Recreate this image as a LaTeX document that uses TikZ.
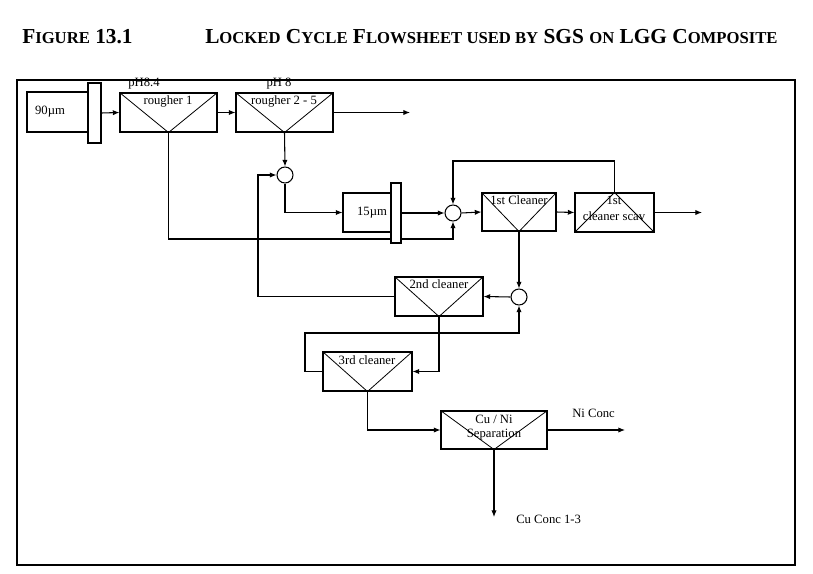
\documentclass[tikz,border=0pt]{standalone}
\usepackage{fontspec}
\setmainfont{Liberation Serif}
\usetikzlibrary{arrows.meta,backgrounds}
\begin{document}
\begin{tikzpicture}[x=0.75pt,y=-0.75pt,
  box/.style={draw,fill=white,rectangle,inner sep=0pt,line width=0.8pt},
  mix/.style={draw,fill=white,circle,inner sep=0pt,minimum size=16*0.75pt,line width=0.8pt},
  conn/.style={line width=0.8pt,-{Latex[length=5pt,width=4pt]}},
  lbl/.style={font=\fontsize{9.5pt}{10pt}\selectfont,inner sep=0pt}]
\useasboundingbox (0,0) rectangle (813,574);
\node[anchor=base west,inner sep=0pt,font=\bfseries\fontsize{16pt}{18pt}\selectfont] (t1) at (22,44) {F{\fontsize{12.5pt}{14pt}\selectfont IGURE} 13.1};
\node[anchor=base west,inner sep=0pt,font=\bfseries\fontsize{16pt}{18pt}\selectfont] (t2) at (205,44) {L{\fontsize{12.5pt}{14pt}\selectfont OCKED} C{\fontsize{12.5pt}{14pt}\selectfont YCLE} F{\fontsize{12.5pt}{14pt}\selectfont LOWSHEET USED BY} SGS {\fontsize{12.5pt}{14pt}\selectfont ON} LGG C{\fontsize{12.5pt}{14pt}\selectfont OMPOSITE}};
\draw[line width=0.8pt] (17,80) rectangle (795,565);
% units
\node[box,minimum width=61*0.75pt,minimum height=40*0.75pt] (b90) at (57.5,112) {};
\node[lbl] at (50,112) {90µm};
\node[box,minimum width=13*0.75pt,minimum height=60*0.75pt] (s90) at (94.5,113) {};
\node[box,minimum width=97*0.75pt,minimum height=39*0.75pt] (r1) at (168.5,112.5) {};
\node[box,minimum width=97*0.75pt,minimum height=39*0.75pt] (r2) at (284.5,112.5) {};
\node[mix] (m1) at (285,175) {};
\node[box,minimum width=48*0.75pt,minimum height=39*0.75pt] (b15) at (367,212.5) {};
\node[lbl] at (372,212.5) {15µm};
\node[box,minimum width=10*0.75pt,minimum height=60*0.75pt] (s15) at (396,213) {};
\node[mix] (m2) at (453,213) {};
\node[box,minimum width=74*0.75pt,minimum height=38*0.75pt] (c1) at (519,212) {};
\node[box,minimum width=79*0.75pt,minimum height=39*0.75pt] (sc) at (614.5,212.5) {};
\node[mix] (m3) at (519,297) {};
\node[box,minimum width=88*0.75pt,minimum height=39*0.75pt] (c2) at (439,296.5) {};
\node[box,minimum width=89*0.75pt,minimum height=39*0.75pt] (c3) at (367.5,371.5) {};
\node[box,minimum width=106*0.75pt,minimum height=38*0.75pt] (cu) at (494,430) {};
% triangles
\foreach \n in {r1,r2,c1,c2,c3,cu} \draw[line width=0.6pt] (\n.north west) -- (\n.south) -- (\n.north east);
\draw[line width=0.6pt] (sc.south west) -- (sc.north) -- (sc.south east);
% labels
\node[lbl] at (168,101) {rougher 1};
\node[lbl] at (284,101) {rougher 2 - 5};
\node[lbl] at (144,84) {pH8.4};
\node[lbl] at (279,84) {pH 8};
\node[lbl] at (519,200) {1st Cleaner};
\node[lbl] at (614,200) {1st};
\node[lbl] at (614,216) {cleaner scav};
\node[lbl] at (439,284) {2nd cleaner};
\node[lbl] at (367,360) {3rd cleaner};
\node[lbl] at (494,419) {Cu / Ni};
\node[lbl] at (494,435) {Separation};
\node[lbl,anchor=west] (nic) at (572,413) {Ni Conc};
\node[lbl,anchor=west] (cuc) at (516,519) {Cu Conc 1-3};
% coordinates
\coordinate (o1) at (410,112.5);
\coordinate (j1) at (258,175);
\coordinate (j2) at (453,239);
\coordinate (j3) at (453,161);
\coordinate (o2) at (702,212.5);
\coordinate (j4) at (305,333);
\coordinate (o3) at (625,430);
\coordinate (o4) at (494,517);
\begin{scope}[on background layer]
\draw[conn] (s90.east) -- (r1.west);
\draw[conn] (r1.east) -- (r2.west);
\draw[conn] (r2.east) -- (o1);
\draw[conn] (r2.south) -- (m1.north);
\draw[conn] (c2.west) -| (j1) -- (m1.west);
\draw[conn] (m1.south) |- (b15.west);
\draw[conn] (r1.south) |- (j2) -- (m2.south);
\draw[conn] (s15.east) -- (m2.west);
\draw[conn] (sc.north) |- (j3) -- (m2.north);
\draw[conn] (m2.east) -- (c1.west);
\draw[conn] (c1.east) -- (sc.west);
\draw[conn] (sc.east) -- (o2);
\draw[conn] (c1.south) -- (m3.north);
\draw[conn] (m3.west) -- (c2.east);
\draw[conn] (c2.south) |- (c3.east);
\draw[conn] (c3.west) -| (j4) -| (m3.south);
\draw[conn] (c3.south) |- (cu.west);
\draw[conn] (cu.east) -- (o3);
\draw[conn] (cu.south) -- (o4);
\end{scope}
\end{tikzpicture}
\end{document}
